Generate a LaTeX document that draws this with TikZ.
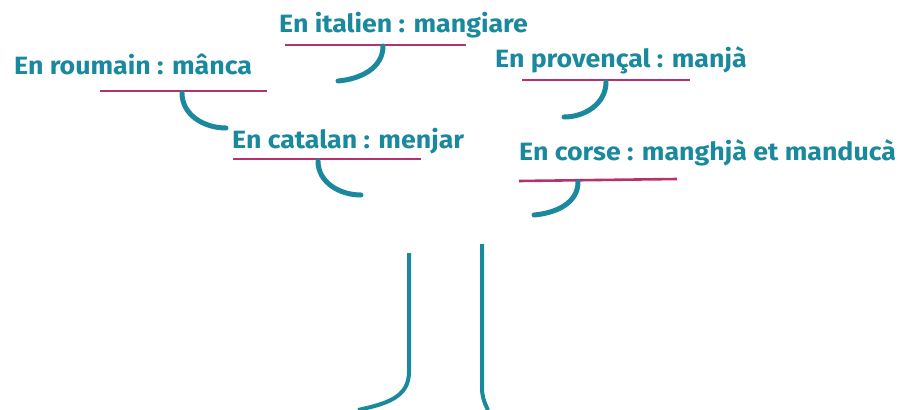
\documentclass[tikz,border=0pt]{standalone}
\usepackage{fontspec}
\setmainfont{Fira Sans}[FakeStretch=1.07]
\definecolor{teal1}{RGB}{26,137,158}
\definecolor{mag1}{RGB}{181,50,110}
\begin{document}
\begin{tikzpicture}[x=1pt,y=-1pt,
  lab/.style={anchor=base west,inner sep=0pt,text=teal1,font=\fontsize{25}{29}\selectfont\bfseries},
  uline/.style={draw=mag1,line width=2.6pt},
  branch/.style={draw=teal1,line width=5pt,line cap=round},
  trunk/.style={draw=teal1,line width=4pt}]
\useasboundingbox (0,0) rectangle (906,410);
% labels
\node[lab] (it) at (279,32) {En italien : mangiare};
\node[lab] (ro) at (14,74) {En roumain : mânca};
\node[lab] (pr) at (495,67) {En provençal : manjà};
\node[lab] (ca) at (232,148) {En catalan : menjar};
\node[lab] (co) at (519,160) {En corse : manghjà et manducà};
% underlines
\draw[uline] (285,45) -- (466,45);
\draw[uline] (100,91) -- (267,91);
\draw[uline] (522,80) -- (690,80);
\draw[uline] (233,159) -- (421,159);
\draw[uline] (519,181) -- (677,179);
% hooks
\draw[branch] (383,46) to[out=-90,in=5] (338,81);
\draw[branch] (182,93) to[out=-90,in=180] (226,128);
\draw[branch] (318,161) to[out=-90,in=180] (361,195);
\draw[branch] (606,82) to[out=-90,in=0] (564,117);
\draw[branch] (578,182) to[out=-90,in=5] (534,215);
% trunk
\draw[trunk] (409,253) -- (409,372) .. controls (409,398) and (385,404) .. (358,410);
\draw[trunk] (482,244) -- (482,388) .. controls (482,396) and (484,402) .. (488,410);
\end{tikzpicture}
\end{document}
